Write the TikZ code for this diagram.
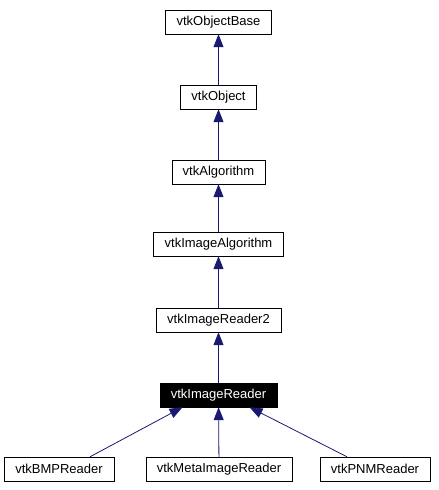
\documentclass[tikz,border=0pt]{standalone}
\usepackage{fontspec}
\setmainfont{Liberation Sans}
\usetikzlibrary{arrows.meta}
\definecolor{edgeblue}{RGB}{25,25,112}

\begin{document}
\begin{tikzpicture}[x=1pt, y=1pt, every node/.style={font=\fontsize{13}{15}\selectfont},
	cls/.style={draw, fill=white, minimum height=24pt, inner xsep=11pt, inner ysep=0pt},
	cur/.style={cls, fill=black, text=white},
	inh/.style={edgeblue, line width=0.8pt, -{Triangle[width=10pt, length=13pt]}}]
	\useasboundingbox (0,0) rectangle (439,-490);
	\node[cls] (OB) at (218.5,-22) {vtkObjectBase};
	\node[cls] (O) at (218.5,-97) {vtkObject};
	\node[cls] (A) at (218.5,-172) {vtkAlgorithm};
	\node[cls] (IA) at (218.5,-244) {vtkImageAlgorithm};
	\node[cls] (IR2) at (218.5,-320) {vtkImageReader2};
	\node[cur] (IR) at (218.5,-395) {vtkImageReader};
	\node[cls] (BMP) at (59,-469) {vtkBMPReader};
	\node[cls] (MI) at (219,-469) {vtkMetaImageReader};
	\node[cls] (PNM) at (375,-469) {vtkPNMReader};
	\draw[inh] (O) -- (OB);
	\draw[inh] (A) -- (O);
	\draw[inh] (IA) -- (A);
	\draw[inh] (IR2) -- (IA);
	\draw[inh] (IR) -- (IR2);
	\draw[inh] ([xshift=31pt]BMP.north) -- ([xshift=-36pt]IR.south);
	\draw[inh] (MI) -- (IR);
	\draw[inh] ([xshift=-28pt]PNM.north) -- ([xshift=31pt]IR.south);
\end{tikzpicture}
\end{document}
